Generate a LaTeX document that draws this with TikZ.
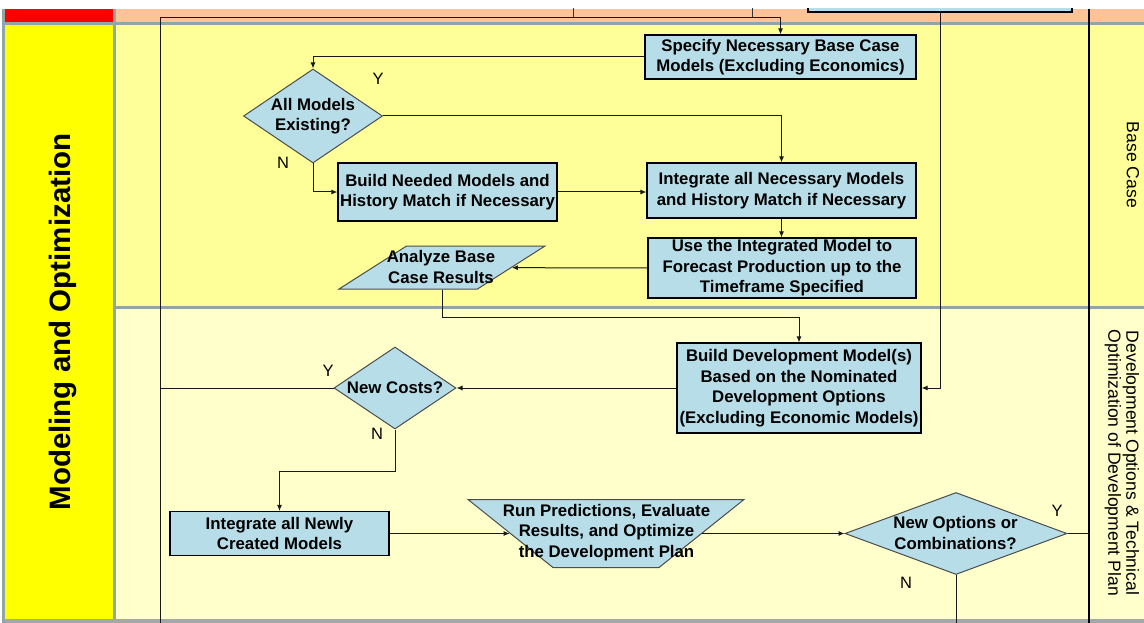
\documentclass[tikz,border=0pt]{standalone}
\usepackage{fontspec}
\usetikzlibrary{shapes.geometric,arrows.meta}
\newfontfamily\arialf{Liberation Sans}
\definecolor{boxblue}{RGB}{183,222,232}
\definecolor{peach}{RGB}{255,194,153}
\definecolor{laneA}{RGB}{255,255,153}
\definecolor{laneB}{RGB}{255,255,204}
\definecolor{hdr}{RGB}{255,255,0}
\definecolor{hdrred}{RGB}{255,0,0}
\definecolor{sepgray}{RGB}{143,165,168}
\definecolor{botgray}{RGB}{165,168,168}
\begin{document}
\begin{tikzpicture}[x=1pt,y=-1pt,
  txt/.style={font=\arialf\bfseries\fontsize{16.8}{20.5}\selectfont, align=center, inner sep=0pt},
  procbox/.style={draw=black, fill=boxblue, line width=1.1pt, txt},
  decis/.style={diamond, draw=black!70, fill=boxblue, line width=1pt, inner sep=1pt},
  slant/.style={trapezium, trapezium stretches=true, draw=black!70, fill=boxblue, line width=1pt, inner sep=1pt},
  conn/.style={draw=black!90, line width=1pt},
  arr/.style={conn, -{Latex[length=6pt,width=5pt]}},
  yn/.style={font=\arialf\fontsize{16.5}{18}\selectfont, inner sep=0pt},
  lanetitle/.style={font=\arialf\fontsize{17.6}{18}\selectfont, align=center, inner sep=0pt},
]
\useasboundingbox (0,0) rectangle (1144,623);
\fill[white] (0,0) rectangle (1144,623);
\begin{scope}
\clip (0,9) rectangle (1144,623);
% lanes
\fill[sepgray] (2,9) rectangle (1144,623);
\fill[hdrred] (5,9) rectangle (113,22);
\fill[peach] (116,9) rectangle (1144,22);
\fill[hdr] (5,25) rectangle (113,619);
\fill[laneA] (116,25) rectangle (1144,306);
\fill[laneB] (116,309) rectangle (1144,619);
\fill[botgray] (5,619) rectangle (1144,623);

% lane titles
\node[font=\arialf\bfseries\fontsize{29.5}{30}\selectfont, rotate=90, inner sep=0pt] (lanemain) at (63,322) {Modeling and Optimization};
\node[lanetitle, rotate=-90] (lanebase) at (1133,165) {Base Case};
\node[lanetitle, rotate=-90] (lanedev) at (1122,463) {Development Options \& Technical\\Optimization of Development Plan};

% right separator line
\coordinate (rtop) at (1089,9);
\coordinate (rbot) at (1089,623);
\draw[black, line width=1.5pt] (rtop) -- (rbot);

% elements from the lane above
\node[draw=black!80, line width=1pt, minimum width=179pt, minimum height=26pt, inner sep=0pt] (topbox) at (662.5,5) {};
\node[procbox, minimum width=264pt, minimum height=20pt] (topblue) at (940,2) {};

% process nodes
\node[procbox, minimum width=271pt, minimum height=44pt] (spec) at (780.5,57) {Specify Necessary Base Case\\Models (Excluding Economics)};
\node[decis, minimum width=139pt, minimum height=94pt] (d1) at (313,116) {};
\node[txt] (d1t) at (d1) {All Models\\Existing?};
\node[procbox, minimum width=219pt, minimum height=58pt] (build) at (447.5,192) {Build Needed Models and\\History Match if Necessary};
\node[procbox, minimum width=269pt, minimum height=55pt] (integ) at (781.5,190.5) {Integrate all Necessary Models\\and History Match if Necessary};
\node[procbox, minimum width=268pt, minimum height=60pt] (use) at (782,268) {Use the Integrated Model to\\Forecast Production up to the\\Timeframe Specified};
\node[slant, trapezium left angle=46.4, trapezium right angle=133.6, minimum width=206pt, minimum height=43pt] (analyze) at (442,267.5) {};
\node[txt] (analyzet) at (441,267) {Analyze Base\\Case Results};
\node[procbox, minimum width=244pt, minimum height=90pt] (devm) at (799,388) {Build Development Model(s)\\Based on the Nominated\\Development Options\\(Excluding Economic Models)};
\node[decis, minimum width=122pt, minimum height=82pt] (d2) at (395,388) {};
\node[txt] (d2t) at (d2) {New Costs?};
\node[procbox, minimum width=219pt, minimum height=44pt] (newly) at (279.5,533.5) {Integrate all Newly\\Created Models};
\node[slant, trapezium left angle=51.3, trapezium right angle=51.3, shape border rotate=180, minimum width=276pt, minimum height=68pt] (run) at (606,533.5) {};
\node[txt] (runt) at (606.5,532.5) {Run Predictions, Evaluate\\Results, and Optimize\\the Development Plan};
\node[decis, minimum width=222pt, minimum height=82pt] (d3) at (956,533.5) {};
\node[txt] (d3t) at (955.5,533) {New Options or\\Combinations?};

% Y / N labels
\node[yn] (d1y) at (378,79) {Y};
\node[yn] (d1n) at (283,163) {N};
\node[yn] (d2y) at (328,371) {Y};
\node[yn] (d2n) at (377,434) {N};
\node[yn] (d3y) at (1057,511) {Y};
\node[yn] (d3n) at (906,583) {N};

% connectors
\coordinate (loopTop) at (160,17.5);
\coordinate (loopBot) at (160,623);
\draw[arr] (loopBot) -- (loopTop) -| (spec.north);
\draw[conn] (d2.west) -- (d2.west -| loopTop);
\draw[arr] (topblue.south) |- (devm.east);
\draw[arr] (spec.west) -| (d1.north);
\draw[arr] (d1.east) -| (integ.north);
\draw[arr] (d1.south) |- (build.west);
\draw[arr] (build.east) -- (build.east -| integ.west);
\draw[arr] (integ.south) -- (integ.south |- use.north);
\draw[arr] (use.west) -- (analyze);
\draw[arr] (analyze.south) -- ++(0,28) -| (devm.north);
\draw[arr] (devm.west) -- (d2.east);
\draw[arr] (d2.south) -- ++(0,42) -| (newly.north);
\draw[arr] (newly.east) -- (run);
\draw[arr] (run) -- (d3);
\draw[conn] (d3.east) -- (d3.east -| rtop);
\draw[conn] (d3.south) -- (d3.south |- loopBot);
\end{scope}
\end{tikzpicture}
\end{document}
